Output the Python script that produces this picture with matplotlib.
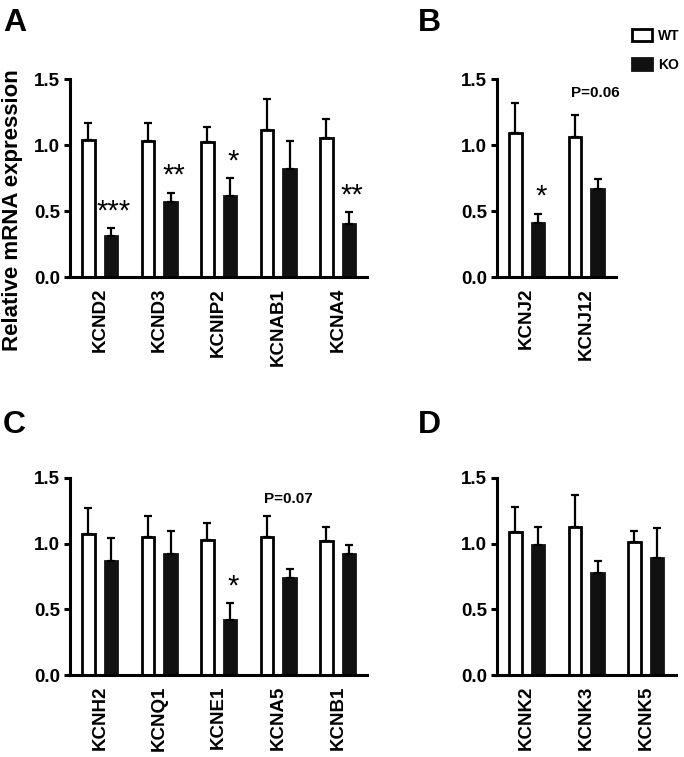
import numpy as np
import matplotlib
matplotlib.use("Agg")
import matplotlib.pyplot as plt
from matplotlib.patches import Patch

plt.rcParams['font.family'] = ['Liberation Sans', 'DejaVu Sans']
plt.rcParams['font.weight'] = 'bold'

# panel A
genes_a = ["KCND2", "KCND3", "KCNIP2", "KCNAB1", "KCNA4"]
wt_a = [1.04, 1.03, 1.02, 1.11, 1.05]
wt_err_a = [0.13, 0.14, 0.12, 0.24, 0.15]
ko_a = [0.31, 0.57, 0.61, 0.82, 0.40]
ko_err_a = [0.06, 0.07, 0.14, 0.21, 0.09]
sig_a = ["***", "**", "*", "", "**"]

# panel B
genes_b = ["KCNJ2", "KCNJ12"]
wt_b = [1.09, 1.06]
wt_err_b = [0.23, 0.17]
ko_b = [0.41, 0.67]
ko_err_b = [0.07, 0.07]
sig_b = ["*", ""]

# panel C
genes_c = ["KCNH2", "KCNQ1", "KCNE1", "KCNA5", "KCNB1"]
wt_c = [1.07, 1.05, 1.03, 1.05, 1.02]
wt_err_c = [0.20, 0.16, 0.13, 0.16, 0.11]
ko_c = [0.87, 0.92, 0.42, 0.74, 0.92]
ko_err_c = [0.17, 0.18, 0.13, 0.07, 0.07]
sig_c = ["", "", "*", "", ""]

# panel D
genes_d = ["KCNK2", "KCNK3", "KCNK5"]
wt_d = [1.09, 1.13, 1.01]
wt_err_d = [0.19, 0.24, 0.09]
ko_d = [0.99, 0.78, 0.89]
ko_err_d = [0.14, 0.09, 0.23]
sig_d = ["", "", ""]

W, H = 684, 757
fig = plt.figure(figsize=(W / 100, H / 100), dpi=100)


def px_axes(left, top, width, height):
    return fig.add_axes([left / W, 1 - (top + height) / H, width / W, height / H])


def draw_panel(ax, genes, wt, wt_err, ko, ko_err, sig):
    x = np.arange(len(genes))
    off, bw = 0.19, 0.21
    ekw = dict(elinewidth=1.6, capsize=3, capthick=1.6, ecolor='black')
    ax.bar(x - off, wt, bw, color='white', edgecolor='black', linewidth=2.0,
           yerr=[np.zeros(len(wt)), wt_err], error_kw=ekw, zorder=2)
    ax.bar(x + off, ko, bw, color='#111111', edgecolor='#111111', linewidth=2.0,
           yerr=[np.zeros(len(ko)), ko_err], error_kw=ekw, zorder=2)
    for i, s in enumerate(sig):
        if s:
            ax.text(x[i] + off + 0.05, ko[i] + ko_err[i] + 0.02, s, ha='center',
                    va='bottom', fontsize=21, fontweight='normal')
    ax.set_xlim(-0.5, len(genes) - 0.5)
    ax.set_ylim(0, 1.5)
    ax.set_yticks([0, 0.5, 1.0, 1.5])
    ax.set_yticklabels(["0.0", "0.5", "1.0", "1.5"])
    ax.set_xticks(x)
    ax.set_xticklabels(genes, rotation=90)
    for s in ['top', 'right']:
        ax.spines[s].set_visible(False)
    for s in ['left', 'bottom']:
        ax.spines[s].set_linewidth(2.2)
    ax.tick_params(axis='y', length=4, width=2.2, labelsize=13.5, pad=3)
    ax.tick_params(axis='x', length=0, labelsize=13.5, pad=8)
    for lab in ax.get_xticklabels() + ax.get_yticklabels():
        lab.set_fontweight('bold')


ax_a = px_axes(70, 79, 297.5, 198)
ax_b = px_axes(497, 79, 119, 198)
ax_c = px_axes(70, 478, 297.5, 197)
ax_d = px_axes(497, 478, 178.5, 197)

draw_panel(ax_a, genes_a, wt_a, wt_err_a, ko_a, ko_err_a, sig_a)
draw_panel(ax_b, genes_b, wt_b, wt_err_b, ko_b, ko_err_b, sig_b)
draw_panel(ax_c, genes_c, wt_c, wt_err_c, ko_c, ko_err_c, sig_c)
draw_panel(ax_d, genes_d, wt_d, wt_err_d, ko_d, ko_err_d, sig_d)

ax_b.text(1.15, 1.34, "P=0.06", ha='center', va='bottom', fontsize=11, fontweight='bold')
ax_c.text(3.17, 1.29, "P=0.07", ha='center', va='bottom', fontsize=11, fontweight='bold')

# y label placed in figure pixels so it stays inside the canvas
fig.text(2 / W, 1 - 210 / H, "Relative mRNA expression", rotation=90,
         ha='left', va='center', fontsize=16, fontweight='bold')

for lbl, xx, yy in [("A", 3, 8), ("B", 418, 8), ("C", 3, 410), ("D", 418, 410)]:
    fig.text(xx / W, 1 - yy / H, lbl, fontsize=23, fontweight='bold', va='top', ha='left')

handles = [Patch(facecolor='white', edgecolor='black', linewidth=2.0),
           Patch(facecolor='#111111', edgecolor='#111111', linewidth=2.0)]
fig.legend(handles, ["WT", "KO"], loc='upper left', bbox_to_anchor=(619 / W, 1 - 16 / H),
           frameon=False, handlelength=1.5, handleheight=1.0, labelspacing=1.1,
           handletextpad=0.4, prop={'size': 10, 'weight': 'bold'})

fig.savefig("out.png", dpi=100)
